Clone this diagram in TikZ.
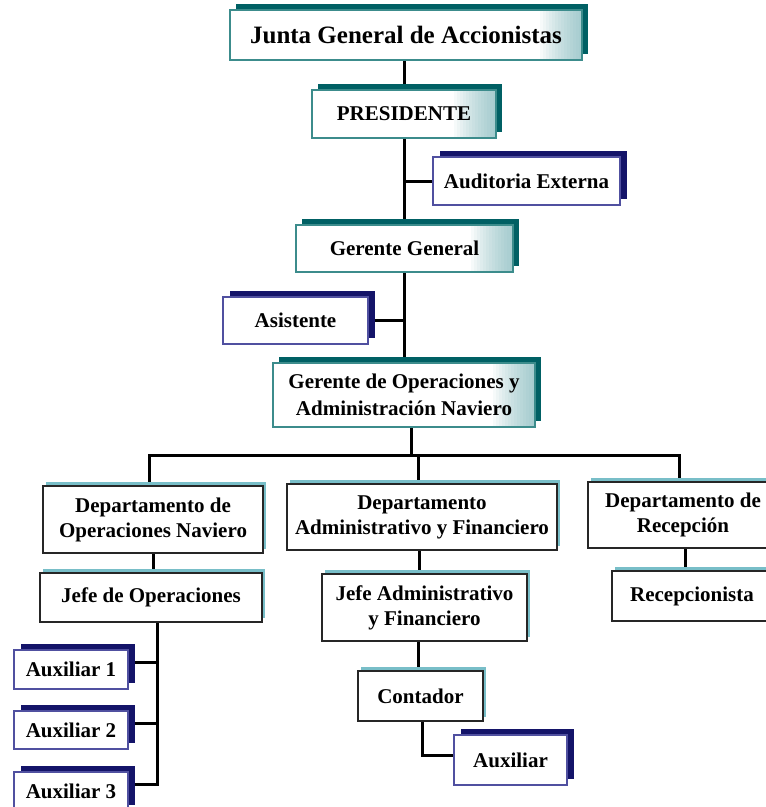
\documentclass[tikz,border=0pt]{standalone}
\usepackage{fontspec}
\setmainfont{Liberation Serif}
\usetikzlibrary{shadows,backgrounds}

\definecolor{tealdark}{RGB}{0,96,100}
\definecolor{tealline}{RGB}{60,140,140}
\definecolor{tealgrad}{RGB}{110,175,180}
\definecolor{tealpale}{RGB}{120,190,200}
\definecolor{navyshadow}{RGB}{20,20,105}
\definecolor{navyline}{RGB}{80,80,160}

\tikzset{
  every node/.style={inner sep=0pt, align=center},
  boxtext/.style={font=\bfseries\fontsize{21}{25}\selectfont},
  % soft glow along the right edge of the upper boxes, built from layered strips
  edgeglow/.style={path picture={
    \foreach \k in {1,...,14}
      \fill[tealgrad, fill opacity=0.06]
        ([xshift=-3*\k pt]path picture bounding box.north east) rectangle
        (path picture bounding box.south east);}},
  topbox/.style={boxtext, draw=tealline, line width=1.6pt, fill=white, edgeglow,
    copy shadow={shadow xshift=6pt, shadow yshift=6pt, fill=tealdark, draw=none}},
  sidebox/.style={boxtext, draw=navyline, line width=1.4pt, fill=white,
    copy shadow={shadow xshift=7pt, shadow yshift=6pt, fill=navyshadow, draw=none}},
  deptbox/.style={boxtext, draw=black!85, line width=1.5pt, fill=white,
    copy shadow={shadow xshift=3pt, shadow yshift=4pt, fill=tealpale, draw=none}},
  link/.style={line width=3pt, black},
}

\begin{document}
\begin{tikzpicture}[x=1pt, y=-1pt]
\useasboundingbox (0,0) rectangle (766,807);
\clip (0,0) rectangle (766,807);

% upper chain of command
\node[topbox, minimum width=352pt, minimum height=50pt, font=\bfseries\fontsize{25}{29}\selectfont]
  (junta) at (406,35) {Junta General de Accionistas};
\node[topbox, minimum width=184pt, minimum height=48pt] (pres) at (404,114) {PRESIDENTE};
\node[sidebox, minimum width=187pt, minimum height=48pt] (audit) at (526.5,181) {Auditoria Externa};
\node[topbox, minimum width=217pt, minimum height=47pt] (gg) at (404.5,248.5) {Gerente General};
\node[sidebox, minimum width=145pt, minimum height=47pt] (asist) at (295.5,320.5) {Asistente};
\node[topbox, minimum width=262pt, minimum height=64pt, font=\bfseries\fontsize{21}{27}\selectfont]
  (go) at (404,395) {Gerente de Operaciones y\\Administración Naviero};

% departments
\node[deptbox, minimum width=220pt, minimum height=67pt] (dop) at (153,519.5)
  {Departamento de\\Operaciones Naviero};
\node[deptbox, minimum width=270pt, minimum height=66pt] (dadm) at (422,517)
  {Departamento\\Administrativo y Financiero};
\node[deptbox, minimum width=190pt, minimum height=66pt] (drec) at (683,515)
  {Departamento de\\Recepción};

% heads of department
\node[deptbox, minimum width=222pt, minimum height=49pt] (jop) at (151,597.5) {Jefe de Operaciones};
\node[deptbox, minimum width=205pt, minimum height=67pt] (jadm) at (424.5,607.5)
  {Jefe Administrativo\\y Financiero};
\node[deptbox, minimum width=160pt, minimum height=50pt] (recep) at (692,596) {Recepcionista};
\node[deptbox, minimum width=125pt, minimum height=50pt] (cont) at (420.5,696) {Contador};

% assistants
\node[sidebox, minimum width=114pt, minimum height=39pt] (aux1) at (71,669.5) {Auxiliar 1};
\node[sidebox, minimum width=114pt, minimum height=38pt] (aux2) at (71,730) {Auxiliar 2};
\node[sidebox, minimum width=114pt, minimum height=39pt] (aux3) at (71,791.5) {Auxiliar 3};
\node[sidebox, minimum width=113pt, minimum height=50pt] (auxc) at (510.5,760) {Auxiliar};

% connectors
\begin{scope}[on background layer]
  \coordinate (barL) at (149,455);
  \coordinate (barM) at (418,455);
  \coordinate (barR) at (679,455);
  \coordinate (goOut) at ([xshift=7pt]go.south);
  \coordinate (jopOut) at ([xshift=6pt]jop.south);

  \draw[link] (junta.south -| pres.north) -- (pres.north);
  \draw[link] (pres.south) -- (pres.south |- gg.north);
  \draw[link] (gg.south) -- (gg.south |- go.north);
  \draw[link] (audit.west) -- (audit.west -| pres.south);
  \draw[link] (asist.east) -- (asist.east -| gg.south);

  \draw[link] (goOut) -- (goOut |- barL);
  \draw[link] (barL |- dop.north) -- (barL) -- (barR) -- (barR |- drec.north);
  \draw[link] (barM) -- (barM |- dadm.north);

  \draw[link] (dop.south) -- (dop.south |- jop.north);
  \draw[link] ([xshift=-3pt]dadm.south) -- ([xshift=-3pt]dadm.south |- jadm.north);
  \draw[link] (drec.south) ++(2pt,0) coordinate (drecOut) -- (drecOut |- recep.north);
  \draw[link] ([xshift=-6pt]jadm.south) -- ([xshift=-6pt]jadm.south |- cont.north);

  \draw[link] (jopOut) |- ([yshift=7pt]aux3.east);
  \draw[link] ([yshift=7pt]aux1.east) -- ([yshift=7pt]aux1.east -| jopOut);
  \draw[link] ([yshift=7pt]aux2.east) -- ([yshift=7pt]aux2.east -| jopOut);

  \draw[link] ([xshift=2pt]cont.south) |- ([yshift=5pt]auxc.west);
\end{scope}
\end{tikzpicture}
\end{document}
